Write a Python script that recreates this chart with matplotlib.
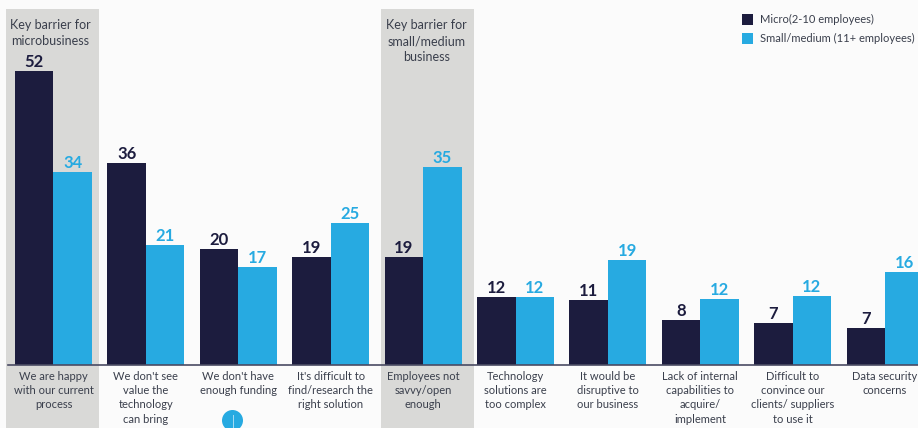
import matplotlib
matplotlib.use("Agg")
import matplotlib.pyplot as plt
import numpy as np
from matplotlib.patches import Rectangle, Ellipse

plt.rcParams["font.family"] = ["Lato", "DejaVu Sans"]

categories = [
    "We are happy\nwith our current\nprocess",
    "We don't see\nvalue the\ntechnology\ncan bring",
    "We don't have\nenough funding",
    "It's difficult to\nfind/research the\nright solution",
    "Employees not\nsavvy/open\nenough",
    "Technology\nsolutions are\ntoo complex",
    "It would be\ndisruptive to\nour business",
    "Lack of internal\ncapabilities to\nacquire/\nimplement",
    "Difficult to\nconvince our\nclients/ suppliers\nto use it",
    "Data security\nconcerns",
]
# bar heights (the original bars are not quite to scale)
micro = [52, 35.7, 20.5, 19.1, 19.1, 12.1, 11.5, 8, 7.4, 6.5]
small_medium = [34.2, 21.2, 17.3, 25.1, 35.1, 12.1, 18.6, 11.7, 12.3, 16.4]
# printed labels
micro_labels = [52, 36, 20, 19, 19, 12, 11, 8, 7, 7]
small_medium_labels = [34, 21, 17, 25, 35, 12, 19, 12, 12, 16]
legend_labels = ["Micro(2-10 employees)", "Small/medium (11+ employees)"]
key_labels = ["Key barrier for\nmicrobusiness", "Key barrier for\nsmall/medium\nbusiness"]

navy = "#1c1c3e"
blue = "#27aae1"
grey = "#d9d9d7"
bg = "#fbfbfb"
text_col = "#3a3f4c"

fig = plt.figure(figsize=(9.18, 4.28), dpi=100, facecolor=bg)
ax = fig.add_axes([0, 0, 1, 1], facecolor=bg)
ax.set_xlim(-0.579, 9.356)
ax.set_ylim(-11.15, 64.6)
ax.axis("off")

px_x = 1 / 918
px_y = 1 / 428

x = np.arange(len(categories))
w = 0.417

# grey highlight columns behind the key barriers
for left, cx, lab in zip([6, 381], [50.5, 426.5], key_labels):
    ax.add_patch(Rectangle((left * px_x, 0), 93 * px_x, 419 * px_y, color=grey, lw=0,
                           transform=ax.transAxes, zorder=0))
    ax.text(cx * px_x, 1 - 19 * px_y, lab, transform=ax.transAxes, ha="center", va="top",
            fontsize=9, color=text_col, linespacing=1.42)

ax.bar(x - w / 2, micro, w, color=navy, zorder=2)
ax.bar(x + w / 2, small_medium, w, color=blue, zorder=2)

for i in range(len(categories)):
    ax.text(x[i] - w / 2, micro[i] + 0.7, str(micro_labels[i]), ha="center", va="baseline",
            fontsize=12, fontweight="bold", color=navy)
    ax.text(x[i] + w / 2, small_medium[i] + 0.7, str(small_medium_labels[i]), ha="center",
            va="baseline", fontsize=12, fontweight="bold", color=blue)
    ax.text(x[i], -1.05, categories[i], ha="center", va="top", fontsize=8,
            color=text_col, linespacing=1.36)

# baseline
ax.plot([-0.49, 9.356], [0, 0], color="#4a4b63", lw=1.2, zorder=3)

# legend, placed by hand like the original
for k, col in enumerate([navy, blue]):
    y0 = 1 - (19 + k * 19.5) / 428
    ax.add_patch(Rectangle((742 * px_x, y0 - 5.5 * px_y), 11 * px_x, 11 * px_y, color=col, lw=0,
                           transform=ax.transAxes))
    ax.text(760 * px_x, y0, legend_labels[k], transform=ax.transAxes, ha="left", va="center",
            fontsize=8, color=text_col)

# stray blue marker at bottom edge
ax.add_patch(Ellipse((232.5 * px_x, 7.5 * px_y), 21 * px_x, 21 * px_y, color=blue, lw=0,
                     transform=ax.transAxes, zorder=4))
ax.plot([232.5 * px_x, 232.5 * px_x], [0, 13 * px_y], color="#a8dcf3", lw=0.7,
        transform=ax.transAxes, zorder=5)

fig.savefig("out.png", dpi=100, facecolor=bg)
